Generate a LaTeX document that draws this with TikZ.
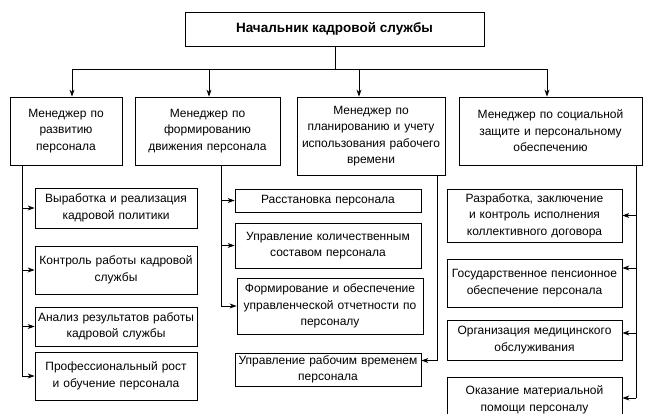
\documentclass[tikz,border=0pt]{standalone}
\usepackage{fontspec}
\setmainfont{Liberation Sans}
\usetikzlibrary{arrows.meta}
\begin{document}
\begin{tikzpicture}[x=1pt,y=-1pt,
  box/.style={draw,line width=0.8pt,inner sep=0pt,align=center,font=\fontsize{12}{16.5}\selectfont},
  ln/.style={line width=0.8pt},
  arr/.style={line width=0.8pt,-{Stealth[length=7pt,width=5pt]}}]
\useasboundingbox (0,0) rectangle (654,413);
% top
\node[box,minimum width=299,minimum height=34,font=\fontsize{13.5}{15}\selectfont\bfseries] (top) at (334.5,29) {Начальник кадровой службы};
% managers
\node[box,minimum width=112,minimum height=68,text width=110] (m1) at (66,131) {Менеджер по\\развитию\\персонала};
\node[box,minimum width=145,minimum height=68,text width=143] (m2) at (207.5,131) {Менеджер по\\формированию\\движения персонала};
\node[box,minimum width=148,minimum height=78,text width=146] (m3) at (371,136) {Менеджер по\\планированию и учету\\использования рабочего\\времени};
\node[box,minimum width=183,minimum height=68,text width=181] (m4) at (550.5,131) {Менеджер по социальной\\защите и персональному\\обеспечению};
% left column
\node[box,minimum width=162,minimum height=40,text width=162] (l1) at (116,208) {Выработка и реализация\\кадровой политики};
\node[box,minimum width=162,minimum height=48,text width=162] (l2) at (116,270) {Контроль работы кадровой\\службы};
\node[box,minimum width=162,minimum height=39,text width=162] (l3) at (116,326.5) {Анализ результатов работы\\кадровой службы};
\node[box,minimum width=162,minimum height=48,text width=162] (l4) at (116,376) {Профессиональный рост\\и обучение персонала};
% middle column
\node[box,minimum width=186,minimum height=23,text width=184] (b1) at (328,200.5) {Расстановка персонала};
\node[box,minimum width=186,minimum height=45,text width=184] (b2) at (328,245.5) {Управление количественным\\составом персонала};
\node[box,minimum width=186,minimum height=56,text width=186] (b3) at (330,306) {Формирование и обеспечение\\управленческой отчетности по\\персоналу};
\node[box,minimum width=186,minimum height=33,text width=186] (b4) at (328,369.5) {Управление рабочим временем\\персонала};
% right column
\node[box,minimum width=175,minimum height=53,text width=173] (r1) at (534.5,215.5) {Разработка, заключение\\и контроль исполнения\\коллективного договора};
\node[box,minimum width=175,minimum height=48,text width=175] (r2) at (534.5,283) {Государственное пенсионное\\обеспечение персонала};
\node[box,minimum width=175,minimum height=40,text width=173] (r3) at (534.5,340) {Организация медицинского\\обслуживания};
\node[box,minimum width=175,minimum height=46,text width=173] (r4) at (534.5,400) {Оказание материальной\\помощи персоналу};
% bus
\coordinate (j0) at (335,69);
\coordinate (j1) at (72,69);
\coordinate (j2) at (209,69);
\coordinate (j3) at (359,69);
\coordinate (j4) at (547,69);
\draw[ln] (top.south -| j0) -- (j0);
\draw[ln] (j1) -- (j4);
\draw[arr] (j1) -- (j1 |- m1.north);
\draw[arr] (j2) -- (j2 |- m2.north);
\draw[arr] (j3) -- (j3 |- m3.north);
\draw[arr] (j4) -- (j4 |- m4.north);
% left branch
\coordinate (s1) at (22,165);
\draw[ln] (s1) -- (s1 |- l4.west);
\draw[arr] (s1 |- l1.west) -- (l1.west);
\draw[arr] (s1 |- l2.west) -- (l2.west);
\draw[arr] (s1 |- l3.west) -- (l3.west);
\draw[arr] (s1 |- l4.west) -- (l4.west);
% middle branch
\coordinate (s2) at (221,165);
\draw[ln] (s2) -- (s2 |- b3.west);
\draw[arr] (s2 |- b1.west) -- (b1.west);
\draw[arr] (s2 |- b2.west) -- (b2.west);
\draw[arr] (s2 |- b3.west) -- (b3.west);
% third branch
\coordinate (s3) at (437,175);
\coordinate (b4e) at ([yshift=9pt]b4.east);
\draw[arr] (s3) |- (b4e);
% right branch
\coordinate (s4) at (636,165);
\coordinate (e4) at (636,398);
\coordinate (r2e) at ([yshift=15pt]r2.east);
\coordinate (r3e) at ([yshift=7pt]r3.east);
\draw[ln] (s4) -- (e4);
\draw[arr] (s4 |- r1.east) -- (r1.east);
\draw[arr] (s4 |- r2e) -- (r2e);
\draw[arr] (s4 |- r3e) -- (r3e);
\draw[arr] (e4) -- (e4 -| r4.east);
\end{tikzpicture}
\end{document}
